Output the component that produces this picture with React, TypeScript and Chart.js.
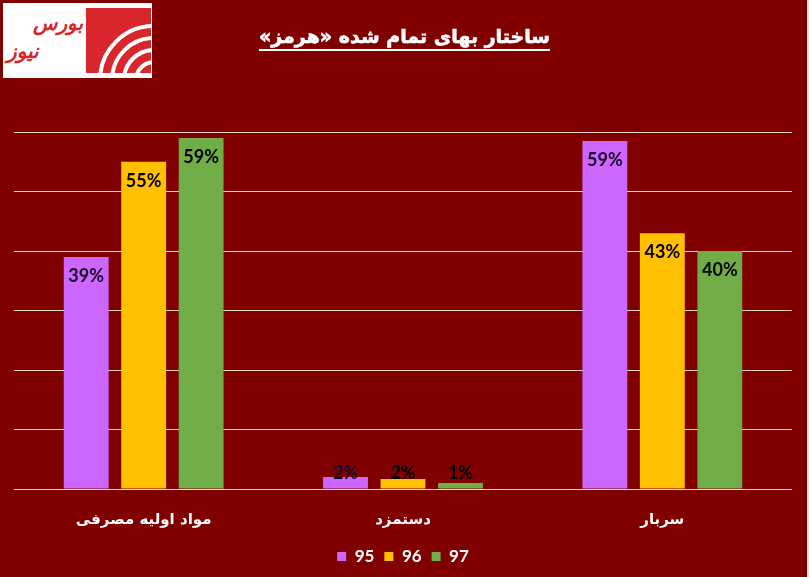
import React, { useEffect, useRef } from 'react';
import { Chart, registerables } from 'chart.js';

Chart.register(...registerables);

const categories = ['مواد اولیه مصرفی', 'دستمزد', 'سربار'];
const seriesNames = ['95', '96', '97'];
const values95 = [39, 2, 58.5];
const values96 = [55, 1.7, 43];
const values97 = [59, 1, 40];
const labels95 = ['39%', '2%', '59%'];
const labels96 = ['55%', '2%', '43%'];
const labels97 = ['59%', '1%', '40%'];
const yTicks = { min: 0, max: 60, step: 10 };
const titleText = 'ساختار بهای تمام شده «هرمز»';

const BG = '#800000';
const colors = ['#cc66ff', '#ffc000', '#70ad47'];

const dataLabelPlugin = {
  id: 'dataLabels',
  afterDatasetsDraw(chart: any) {
    const ctx = chart.ctx;
    const base = chart.scales.y.getPixelForValue(0);
    chart.data.datasets.forEach((ds: any, i: number) => {
      const meta = chart.getDatasetMeta(i);
      meta.data.forEach((bar: any, j: number) => {
        const text = ds.valueLabels[j];
        const h = base - bar.y;
        const y = h > 40 ? bar.y + 19 : base - 16;
        ctx.save();
        ctx.font = 'bold 18px Lato';
        ctx.fillStyle = i === 0 ? '#1a0a26' : '#000';
        ctx.textAlign = 'center';
        ctx.textBaseline = 'middle';
        ctx.fillText(text, bar.x, y);
        ctx.restore();
      });
    });
  },
};

export default function App() {
  const ref = useRef<HTMLCanvasElement>(null);
  useEffect(() => {
    if (!ref.current) return;
    const allLabels = [labels95, labels96, labels97];
    const chart = new Chart(ref.current, {
      type: 'bar',
      data: {
        labels: categories,
        datasets: [values95, values96, values97].map((v, i) => ({
          label: seriesNames[i],
          data: v,
          backgroundColor: colors[i],
          borderWidth: 0,
          categoryPercentage: 0.665,
          barPercentage: 0.78,
          valueLabels: allLabels[i],
        })) as any,
      },
      options: {
        animation: false,
        responsive: false,
        layout: { padding: { left: 14, right: 17, top: 132, bottom: 2 } },
        plugins: {
          legend: {
            position: 'bottom',
            labels: {
              color: '#ffffff',
              boxWidth: 9,
              boxHeight: 9,
              padding: 10,
              font: { family: 'Lato', size: 17, weight: 'bold' },
            },
          },
          tooltip: { enabled: false },
          title: { display: false },
        },
        scales: {
          x: {
            grid: { display: false, drawTicks: false },
            border: { display: false },
            ticks: {
              color: '#ffffff',
              padding: 22,
              font: { family: 'DejaVu Sans', size: 15, weight: 'bold' },
            },
            afterFit: (scale: any) => {
              scale.height = 49;
            },
          },
          y: {
            min: yTicks.min,
            max: yTicks.max,
            ticks: { display: false, stepSize: yTicks.step },
            grid: { color: '#f0d8d0', lineWidth: 1, drawTicks: false },
            border: { display: false },
          },
        },
      },
      plugins: [dataLabelPlugin],
    });
    return () => chart.destroy();
  }, []);

  const rings = [56, 44, 32, 20];
  return (
    <div style={{ position: 'absolute', left: 0, top: 0, width: 809, height: 577, background: BG, overflow: 'hidden' }}>
      <canvas ref={ref} width={809} height={577} style={{ position: 'absolute', left: 0, top: 0 }} />
      <div
        style={{
          position: 'absolute',
          left: 0,
          width: 809,
          top: 23,
          textAlign: 'center',
          color: '#fff',
          fontFamily: 'DejaVu Sans',
          fontWeight: 'bold',
          fontSize: 19,
          lineHeight: '26px',
          direction: 'rtl',
          textDecoration: 'underline',
          textUnderlineOffset: 6,
          textDecorationThickness: 2,
          WebkitTextStroke: '0.6px #fff',
        }}
      >
        {titleText}
      </div>
      <div style={{ position: 'absolute', left: 3, top: 3, width: 149, height: 75, background: '#fff' }}>
        <div style={{ position: 'absolute', left: 83, top: 5, width: 65, height: 65, background: '#d9262c', overflow: 'hidden' }}>
          {rings.map((r, k) => (
            <div
              key={k}
              style={{
                position: 'absolute',
                left: 68 - r,
                top: 72 - r,
                width: 2 * r,
                height: 2 * r,
                borderRadius: '50%',
                border: '4px solid #fff',
                boxSizing: 'border-box',
              }}
            />
          ))}
        </div>
        <div
          style={{
            position: 'absolute',
            left: 4,
            top: 6,
            width: 76,
            color: '#d9262c',
            fontFamily: 'DejaVu Sans',
            fontWeight: 'bold',
            fontSize: 20,
            lineHeight: '28px',
            direction: 'rtl',
            textAlign: 'center',
            fontStyle: 'italic',
          }}
        >
          <div style={{ textAlign: 'right' }}>بورس</div>
          <div style={{ textAlign: 'left' }}>نیوز</div>
        </div>
      </div>
      <div style={{ position: 'absolute', left: 804, top: 0, width: 3, height: 577, background: '#6e0000' }} />
      <div style={{ position: 'absolute', left: 807, top: 0, width: 2, height: 577, background: '#f6d8d2' }} />
    </div>
  );
}
